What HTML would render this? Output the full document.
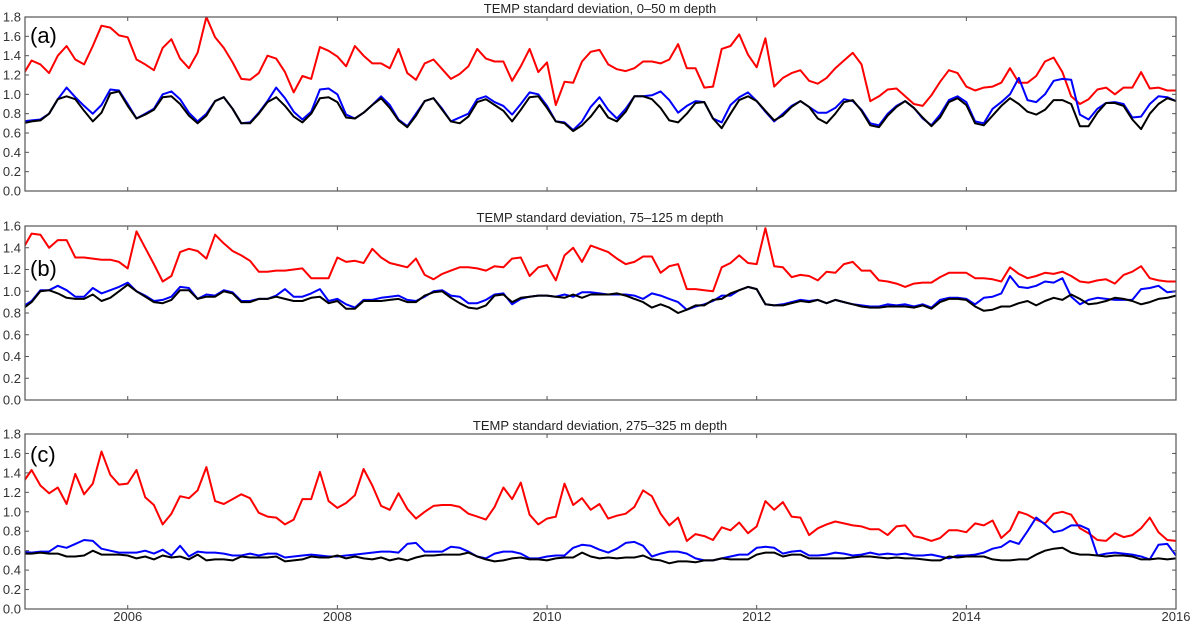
<!DOCTYPE html>
<html><head><meta charset="utf-8"><style>
body{margin:0;background:#fff;}
svg{display:block;font-family:"Liberation Sans","DejaVu Sans",sans-serif;}
</style></head><body>
<svg id="chart" width="1192" height="624" viewBox="0 0 1192 624" xmlns="http://www.w3.org/2000/svg"></svg>
<script>
const xTicks=[2006,2008,2010,2012,2014,2016];
const panelTitles=["TEMP standard deviation, 0–50 m depth","TEMP standard deviation, 75–125 m depth","TEMP standard deviation, 275–325 m depth"];
const panelLabels=["(a)","(b)","(c)"];
const yMaxes=[1.8,1.6,1.8];
const aRed=[1.20,1.35,1.31,1.22,1.40,1.50,1.36,1.31,1.50,1.71,1.69,1.61,
1.59,1.36,1.31,1.25,1.48,1.57,1.37,1.27,1.43,1.80,1.59,1.48,
1.33,1.16,1.15,1.22,1.40,1.37,1.23,1.02,1.19,1.16,1.49,1.45,
1.39,1.29,1.50,1.40,1.32,1.32,1.27,1.47,1.22,1.15,1.32,1.36,
1.26,1.16,1.21,1.29,1.47,1.37,1.34,1.34,1.14,1.29,1.47,1.23,
1.33,0.89,1.13,1.12,1.34,1.44,1.46,1.31,1.26,1.24,1.27,1.34,
1.34,1.32,1.36,1.52,1.27,1.27,1.07,1.08,1.47,1.50,1.62,1.41,
1.28,1.58,1.08,1.17,1.22,1.25,1.14,1.11,1.17,1.27,1.35,1.43,
1.31,0.93,0.98,1.05,1.06,0.98,0.90,0.88,0.99,1.13,1.25,1.22,
1.08,1.04,1.07,1.08,1.12,1.27,1.12,1.12,1.19,1.34,1.38,1.23,
0.98,0.90,0.95,1.05,1.07,1.00,1.07,1.07,1.23,1.06,1.07,1.04,1.04];
const aBlue=[0.72,0.73,0.74,0.80,0.95,1.07,0.97,0.88,0.80,0.89,1.05,1.04,
0.90,0.75,0.80,0.85,1.00,1.03,0.95,0.81,0.72,0.80,0.93,0.97,
0.85,0.70,0.71,0.81,0.93,1.07,0.96,0.82,0.74,0.82,1.05,1.06,
1.00,0.79,0.75,0.81,0.89,0.98,0.89,0.74,0.67,0.80,0.93,0.96,
0.85,0.72,0.76,0.80,0.95,0.98,0.92,0.88,0.79,0.90,1.02,1.00,
0.88,0.72,0.71,0.63,0.72,0.87,0.97,0.84,0.75,0.85,0.98,0.98,
0.99,1.03,0.94,0.81,0.88,0.93,0.92,0.75,0.71,0.89,0.97,1.02,
0.93,0.82,0.72,0.80,0.88,0.93,0.87,0.81,0.81,0.86,0.95,0.93,
0.84,0.70,0.68,0.80,0.88,0.93,0.86,0.75,0.68,0.79,0.94,0.98,
0.92,0.72,0.70,0.85,0.92,1.00,1.17,0.94,0.92,1.00,1.14,1.16,
1.15,0.79,0.74,0.85,0.91,0.92,0.90,0.76,0.77,0.90,0.98,0.97,0.93];
const aBlack=[0.70,0.72,0.73,0.80,0.95,0.98,0.95,0.83,0.72,0.81,1.01,1.03,
0.88,0.75,0.79,0.84,0.97,0.98,0.90,0.78,0.70,0.78,0.93,0.97,
0.85,0.70,0.70,0.80,0.92,0.97,0.88,0.77,0.71,0.80,0.96,0.97,
0.92,0.76,0.75,0.81,0.89,0.96,0.86,0.73,0.66,0.78,0.93,0.96,
0.84,0.72,0.70,0.77,0.92,0.95,0.89,0.83,0.72,0.84,0.97,0.98,
0.86,0.72,0.70,0.62,0.68,0.77,0.89,0.76,0.72,0.82,0.98,0.98,
0.95,0.86,0.73,0.71,0.80,0.91,0.92,0.75,0.65,0.80,0.94,0.98,
0.93,0.83,0.73,0.78,0.87,0.93,0.87,0.75,0.70,0.80,0.92,0.94,
0.83,0.68,0.66,0.78,0.87,0.93,0.86,0.76,0.67,0.76,0.92,0.96,
0.89,0.70,0.68,0.78,0.88,0.96,0.90,0.82,0.79,0.84,0.94,0.94,
0.90,0.67,0.67,0.81,0.91,0.91,0.88,0.74,0.64,0.80,0.90,0.96,0.93];
const bRed=[1.39,1.53,1.52,1.40,1.47,1.47,1.31,1.31,1.30,1.29,1.29,1.27,
1.21,1.55,1.40,1.25,1.09,1.14,1.36,1.39,1.37,1.30,1.52,1.44,
1.37,1.33,1.28,1.18,1.18,1.19,1.19,1.20,1.21,1.12,1.12,1.12,
1.31,1.27,1.28,1.26,1.39,1.31,1.26,1.24,1.22,1.30,1.15,1.11,
1.16,1.19,1.22,1.22,1.21,1.19,1.23,1.22,1.30,1.31,1.14,1.22,
1.24,1.10,1.33,1.40,1.27,1.42,1.39,1.36,1.30,1.25,1.27,1.32,
1.32,1.17,1.23,1.25,1.02,1.02,1.01,1.00,1.22,1.26,1.33,1.26,
1.25,1.58,1.23,1.22,1.13,1.15,1.14,1.10,1.18,1.17,1.25,1.27,
1.19,1.19,1.10,1.09,1.07,1.04,1.07,1.08,1.08,1.13,1.17,1.17,
1.17,1.12,1.12,1.11,1.09,1.22,1.16,1.12,1.14,1.17,1.16,1.18,
1.14,1.09,1.08,1.10,1.11,1.07,1.15,1.18,1.23,1.12,1.10,1.09,1.09];
const bBlue=[0.86,0.91,1.01,1.01,1.05,1.01,0.95,0.95,1.03,0.98,1.01,1.04,
1.08,1.00,0.96,0.91,0.92,0.95,1.04,1.03,0.93,0.97,0.96,1.01,
0.99,0.91,0.91,0.93,0.93,0.96,1.02,0.95,0.95,0.98,1.02,0.91,
0.93,0.88,0.85,0.92,0.92,0.94,0.95,0.96,0.92,0.91,0.95,1.00,
1.01,0.96,0.95,0.89,0.89,0.92,0.97,0.98,0.88,0.93,0.95,0.96,
0.96,0.95,0.97,0.95,0.99,0.99,0.98,0.97,0.97,0.97,0.96,0.93,
0.98,0.96,0.93,0.90,0.83,0.86,0.88,0.91,0.96,0.96,1.01,1.04,
1.02,0.88,0.87,0.88,0.90,0.92,0.91,0.92,0.89,0.92,0.90,0.88,
0.87,0.86,0.86,0.88,0.87,0.88,0.86,0.88,0.85,0.92,0.94,0.94,
0.93,0.88,0.94,0.95,0.98,1.14,1.04,1.03,1.05,1.09,1.08,1.12,
0.95,0.88,0.92,0.94,0.93,0.92,0.92,0.92,1.02,1.03,1.05,0.99,1.00];
const bBlack=[0.84,0.90,1.00,1.01,0.98,0.94,0.93,0.93,0.97,0.91,0.94,1.00,
1.06,1.00,0.95,0.90,0.89,0.92,1.01,1.01,0.93,0.95,0.95,1.00,
0.98,0.90,0.90,0.93,0.93,0.95,0.93,0.91,0.91,0.94,0.95,0.89,
0.91,0.84,0.84,0.91,0.91,0.91,0.92,0.93,0.90,0.90,0.96,0.99,
1.00,0.94,0.89,0.85,0.84,0.87,0.96,0.97,0.90,0.94,0.95,0.96,
0.96,0.95,0.94,0.97,0.94,0.97,0.97,0.97,0.98,0.96,0.93,0.90,
0.85,0.88,0.85,0.80,0.83,0.87,0.87,0.92,0.93,0.98,1.01,1.04,
1.02,0.88,0.87,0.87,0.89,0.91,0.90,0.92,0.89,0.92,0.90,0.88,
0.86,0.85,0.85,0.86,0.86,0.86,0.85,0.87,0.84,0.90,0.93,0.93,
0.92,0.86,0.82,0.83,0.86,0.86,0.89,0.91,0.87,0.91,0.94,0.92,
0.97,0.93,0.88,0.89,0.91,0.94,0.93,0.91,0.88,0.90,0.93,0.94,0.96];
const cRed=[1.30,1.43,1.27,1.19,1.25,1.08,1.39,1.18,1.29,1.62,1.38,1.28,
1.29,1.43,1.15,1.07,0.87,0.98,1.16,1.14,1.22,1.46,1.11,1.08,
1.13,1.18,1.14,0.99,0.95,0.94,0.87,0.92,1.13,1.13,1.41,1.11,
1.04,1.09,1.17,1.44,1.27,1.06,1.02,1.19,1.03,0.93,1.00,1.06,
1.07,1.07,1.05,0.98,0.95,0.92,1.05,1.25,1.13,1.30,0.97,0.87,
0.93,0.95,1.29,1.07,1.14,1.02,1.08,0.93,0.96,0.98,1.05,1.22,
1.16,0.98,0.86,0.94,0.70,0.77,0.75,0.71,0.84,0.81,0.89,0.78,
0.85,1.11,1.02,1.10,0.95,0.94,0.76,0.83,0.87,0.90,0.88,0.86,
0.85,0.82,0.82,0.76,0.85,0.86,0.75,0.73,0.70,0.73,0.81,0.81,
0.79,0.88,0.86,0.91,0.73,0.81,1.00,0.97,0.92,0.88,0.98,1.00,
0.97,0.83,0.78,0.71,0.70,0.78,0.74,0.76,0.83,0.94,0.79,0.71,0.70];
const cBlue=[0.59,0.58,0.59,0.59,0.65,0.63,0.67,0.71,0.70,0.62,0.60,0.58,
0.58,0.58,0.60,0.57,0.61,0.55,0.65,0.54,0.59,0.58,0.58,0.57,
0.55,0.55,0.57,0.55,0.57,0.57,0.53,0.54,0.55,0.56,0.55,0.54,
0.54,0.55,0.56,0.57,0.58,0.59,0.59,0.58,0.67,0.68,0.59,0.59,
0.59,0.64,0.63,0.59,0.54,0.52,0.57,0.59,0.59,0.57,0.52,0.52,
0.54,0.55,0.55,0.63,0.66,0.65,0.61,0.58,0.62,0.68,0.69,0.65,
0.54,0.57,0.59,0.59,0.57,0.52,0.50,0.50,0.52,0.54,0.56,0.56,
0.63,0.64,0.63,0.57,0.59,0.60,0.55,0.55,0.56,0.58,0.57,0.55,
0.56,0.58,0.56,0.57,0.56,0.57,0.55,0.55,0.56,0.54,0.52,0.55,
0.55,0.56,0.58,0.62,0.64,0.70,0.67,0.80,0.94,0.87,0.79,0.81,
0.86,0.86,0.82,0.55,0.57,0.58,0.57,0.56,0.54,0.51,0.66,0.67,0.55];
const cBlack=[0.57,0.57,0.58,0.57,0.57,0.54,0.54,0.55,0.60,0.56,0.56,0.56,
0.55,0.52,0.54,0.51,0.55,0.53,0.54,0.51,0.56,0.50,0.51,0.51,
0.50,0.54,0.53,0.53,0.53,0.54,0.49,0.50,0.51,0.54,0.53,0.53,
0.55,0.52,0.54,0.52,0.51,0.53,0.50,0.52,0.50,0.53,0.55,0.55,
0.56,0.56,0.56,0.58,0.54,0.51,0.49,0.50,0.52,0.53,0.51,0.51,
0.50,0.52,0.53,0.53,0.58,0.54,0.52,0.53,0.52,0.53,0.53,0.55,
0.51,0.50,0.47,0.49,0.49,0.48,0.50,0.50,0.52,0.51,0.51,0.51,
0.56,0.58,0.58,0.54,0.56,0.56,0.52,0.52,0.52,0.52,0.52,0.53,
0.54,0.54,0.53,0.52,0.53,0.52,0.52,0.51,0.50,0.50,0.54,0.53,
0.54,0.54,0.54,0.51,0.50,0.50,0.51,0.51,0.56,0.60,0.62,0.63,
0.58,0.56,0.56,0.55,0.54,0.55,0.55,0.54,0.51,0.51,0.52,0.51,0.52];

const NS="http://www.w3.org/2000/svg";
const svg=document.getElementById('chart');
const X0=25,X1=1176,T0=2005.02,T1=2016;
const xs=t=>X0+(t-T0)/(T1-T0)*(X1-X0);
const panels=[{top:17,bot:191,series:[aRed,aBlue,aBlack],lab:26},{top:226,bot:400,series:[bRed,bBlue,bBlack],lab:50},{top:434,bot:609,series:[cRed,cBlue,cBlack],lab:28}];
const colors=["#ff0000","#0000ff","#000000"];
const sNames=["red","blue","black"];
const pNames=["a","b","c"];
function mk(tag,attrs){const e=document.createElementNS(NS,tag);for(const k in attrs)e.setAttribute(k,attrs[k]);return e;}
panels.forEach((p,pi)=>{
  const g=mk('g',{});
  
  
  svg.appendChild(g);
  const ymax=yMaxes[pi];
  const ys=v=>p.bot-(v/ymax)*(p.bot-p.top);
  const clipId='clip'+pi;
  const cp=mk('clipPath',{id:clipId});cp.appendChild(mk('rect',{x:X0,y:p.top,width:X1-X0,height:p.bot-p.top}));g.appendChild(cp);
  p.series.forEach((arr,si)=>{
    const pts=arr.map((v,i)=>xs(2005+i/12).toFixed(1)+','+ys(v).toFixed(1)).join(' ');
    const pl=mk('polyline',{points:pts,fill:'none',stroke:colors[si],'stroke-width':2,'stroke-linejoin':'round','clip-path':'url(#'+clipId+')'});
    
    
    g.appendChild(pl);
  });
  const fr=mk('rect',{x:X0,y:p.top,width:X1-X0,height:p.bot-p.top,fill:'none',stroke:'#555','stroke-width':1.2});
  
  
  g.appendChild(fr);
  for(let k=0;k<=Math.round(ymax/0.2);k++){
    const v=k*0.2,y=ys(v);
    g.appendChild(mk('line',{x1:X0,x2:X0+4,y1:y,y2:y,stroke:'#555'}));
    g.appendChild(mk('line',{x1:X1-4,x2:X1,y1:y,y2:y,stroke:'#555'}));
    const t=mk('text',{x:21,y:y+4.5,'text-anchor':'end','font-size':13,fill:'#333'});
    t.textContent=v.toFixed(1);
    
    
    g.appendChild(t);
  }
  xTicks.forEach(yr=>{
    const x=xs(yr);
    g.appendChild(mk('line',{x1:x,x2:x,y1:p.bot,y2:p.bot-4,stroke:'#555'}));
    g.appendChild(mk('line',{x1:x,x2:x,y1:p.top,y2:p.top+4,stroke:'#555'}));
    if(pi===2){
      const t=mk('text',{x:x,y:621,'text-anchor':'middle','font-size':13,fill:'#333'});
      t.textContent=yr;
      
      
      g.appendChild(t);
    }
  });
  const ti=mk('text',{x:600,y:p.top-4,'text-anchor':'middle','font-size':13,fill:'#222'});
  ti.textContent=panelTitles[pi];
  
  
  g.appendChild(ti);
  const lb=mk('text',{x:30,y:p.top+p.lab,'font-size':22,fill:'#000'});
  lb.textContent=panelLabels[pi];
  
  
  g.appendChild(lb);
});
</script>
</body></html>
